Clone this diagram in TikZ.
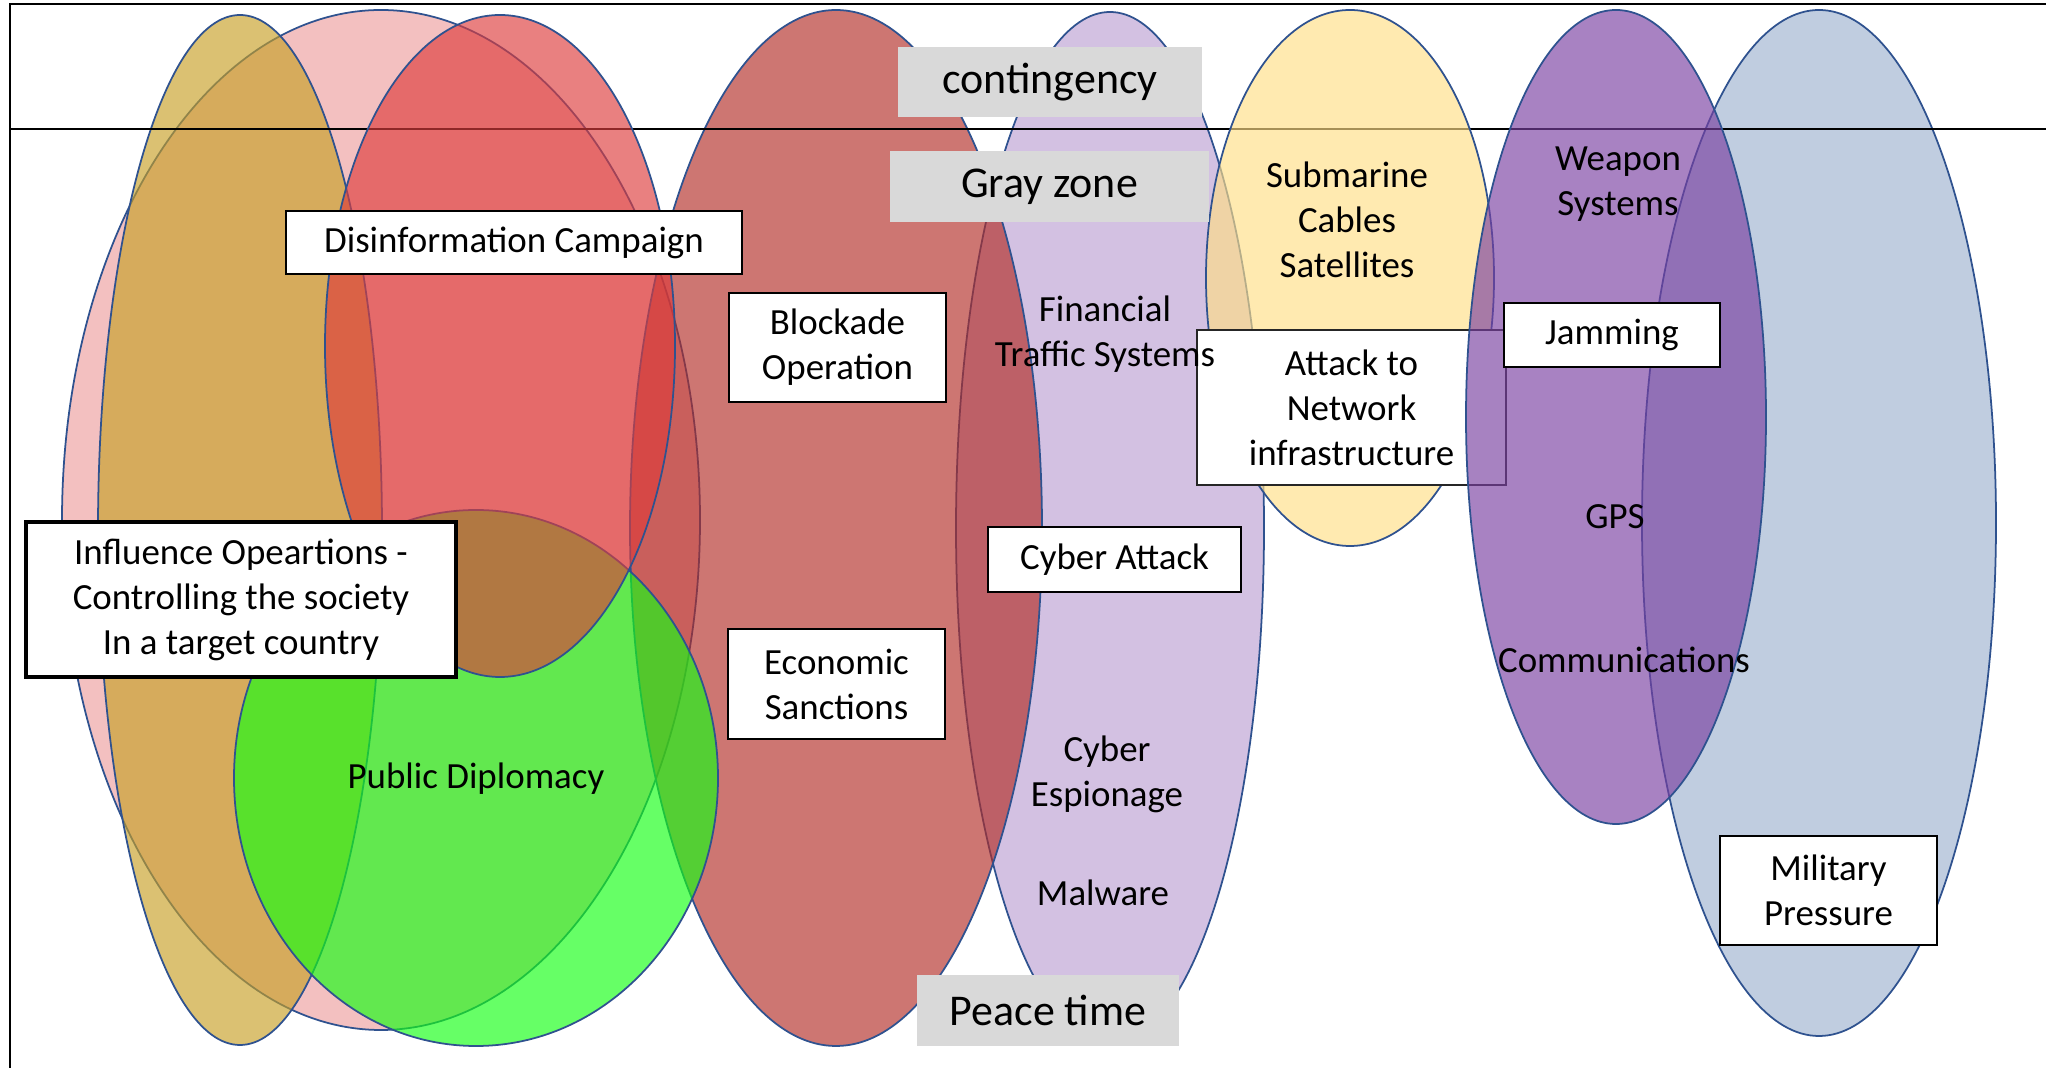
\documentclass[tikz,border=0pt]{standalone}
\usepackage{fontspec}
\setmainfont{Carlito}
\definecolor{outline}{RGB}{47,82,143}
\definecolor{pinkfill}{RGB}{237,158,158}
\definecolor{goldfill}{RGB}{199,160,38}
\definecolor{redfill}{RGB}{221,60,60}
\definecolor{greenfill}{RGB}{20,255,20}
\definecolor{rosefill}{RGB}{178,44,38}
\definecolor{lavfill}{RGB}{188,160,211}
\definecolor{yellowfill}{RGB}{255,222,134}
\definecolor{purplefill}{RGB}{121,63,161}
\definecolor{steelfill}{RGB}{158,178,207}
\definecolor{zonegray}{RGB}{217,217,217}
\tikzset{
  blob/.style={draw=outline, line width=0.5pt, fill opacity=0.65},
  labelbox/.style={draw=black, line width=0.5pt, fill=white, align=center, inner sep=0pt,
    font=\fontsize{10.5}{12.8}\selectfont},
  zonebox/.style={fill=zonegray, inner sep=0pt, font=\fontsize{12.5}{15}\selectfont},
  plain/.style={align=center, inner sep=0pt, font=\fontsize{10.5}{12.8}\selectfont}
}
\begin{document}
\begin{tikzpicture}
    \useasboundingbox (0,0) rectangle (20.46,10.68);
    %% back ellipses
    \draw[blob, fill=pinkfill] (3.81,5.48) ellipse (3.19 and 5.10);
    \draw[blob, fill=goldfill] (2.40,5.38) ellipse (1.42 and 5.15);
    \draw[blob, fill=lavfill] (11.10,5.40) ellipse (1.54 and 5.16);
    \draw[blob, fill=rosefill] (8.36,5.40) ellipse (2.06 and 5.18);
    \draw[blob, fill=steelfill] (18.19,5.45) ellipse (1.77 and 5.13);
    %% frame and contingency line
    \draw[line width=0.75pt] (0.10,0) -- (0.10,10.64) -- (20.46,10.64);
    \draw[line width=0.75pt] (0.10,9.39) -- (20.46,9.39);
    %% front ellipses
    \draw[blob, fill=greenfill] (4.76,2.90) ellipse (2.42 and 2.68);
    \draw[blob, fill=redfill] (5.00,7.22) ellipse (1.75 and 3.31);
    \draw[blob, fill=yellowfill] (13.50,7.90) ellipse (1.44 and 2.68);
    \node[labelbox, draw=black!85, minimum width=3.09cm, minimum height=1.55cm] (network) at (13.515,6.605)
        {Attack to\\Network\\infrastructure};
    \draw[blob, fill=purplefill] (16.16,6.51) ellipse (1.50 and 4.07);
    %% zone labels
    \node[zonebox, minimum width=3.04cm, minimum height=0.70cm] (contingency) at (10.50,9.86) {contingency};
    \node[zonebox, minimum width=3.19cm, minimum height=0.71cm] (grayzone) at (10.495,8.815) {Gray zone};
    \node[zonebox, minimum width=2.62cm, minimum height=0.71cm] (peace) at (10.48,0.575) {Peace time};
    %% boxed labels
    \node[labelbox, minimum width=4.56cm, minimum height=0.63cm] (disinfo) at (5.14,8.255) {Disinformation Campaign};
    \node[labelbox, minimum width=2.17cm, minimum height=1.09cm] (blockade) at (8.375,7.205) {Blockade\\Operation};
    \node[labelbox, minimum width=2.17cm, minimum height=1.10cm] (sanctions) at (8.365,3.84) {Economic\\Sanctions};
    \node[labelbox, minimum width=2.53cm, minimum height=0.65cm] (cyberattack) at (11.145,5.085) {Cyber Attack};
    \node[labelbox, line width=1.2pt, minimum width=4.30cm, minimum height=1.55cm] (influence) at (2.41,4.685)
        {Influence Opeartions -\\Controlling the society\\In a target country};
    \node[labelbox, minimum width=2.16cm, minimum height=0.64cm] (jamming) at (16.12,7.33) {Jamming};
    \node[labelbox, minimum width=2.17cm, minimum height=1.09cm] (military) at (18.285,1.775) {Military\\Pressure};
    %% plain labels
    \node[plain] (financial) at (11.05,7.335) {Financial\\Traffic Systems};
    \node[plain] (cables) at (13.47,8.48) {Submarine\\Cables\\Satellites};
    \node[plain] (weapon) at (16.18,8.84) {Weapon\\Systems};
    \node[plain] (gps) at (16.15,5.51) {GPS};
    \node[plain] (comms) at (16.24,4.08) {Communications};
    \node[plain] (espionage) at (11.07,2.935) {Cyber\\Espionage};
    \node[plain] (malware) at (11.03,1.75) {Malware};
    \node[plain] (diplomacy) at (4.76,2.89) {Public Diplomacy};
\end{tikzpicture}
\end{document}
